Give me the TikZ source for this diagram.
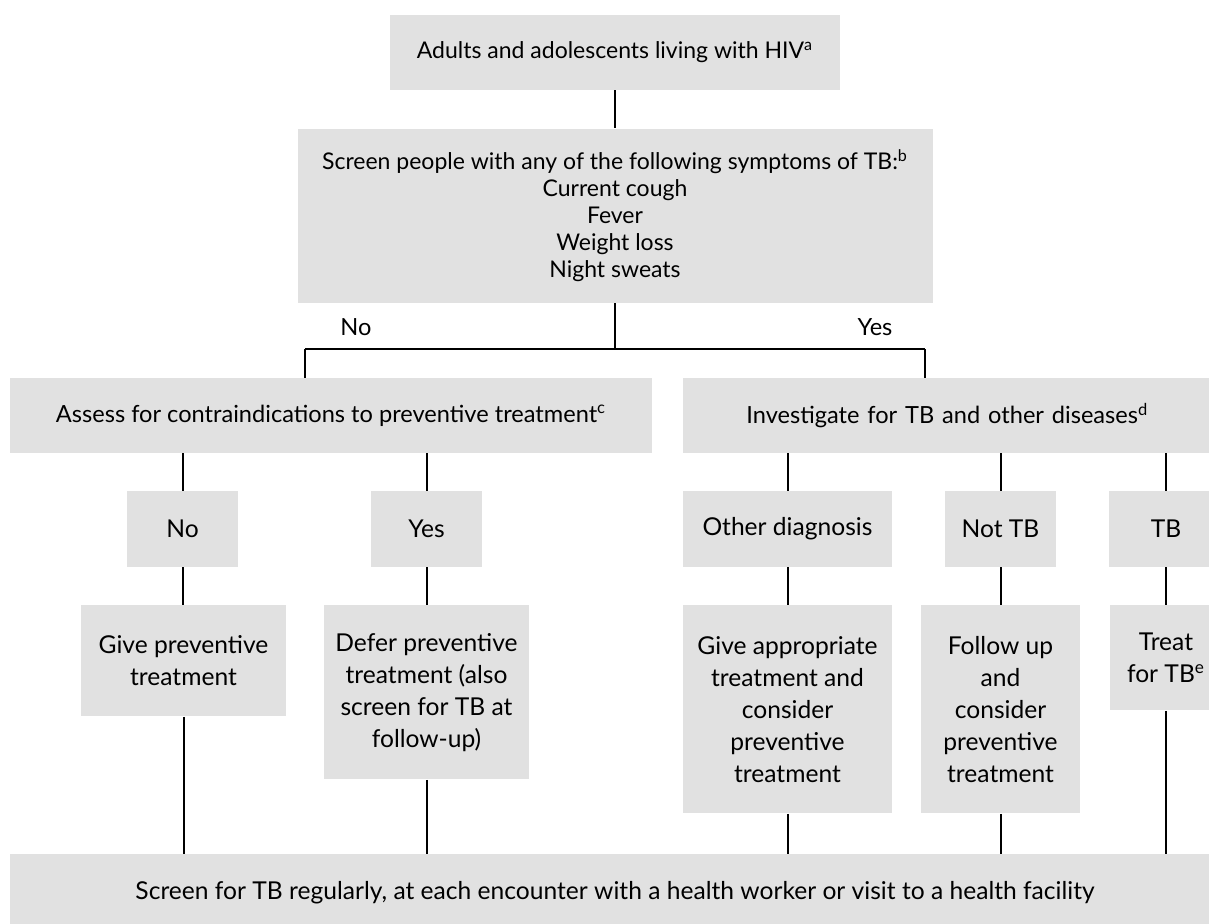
\documentclass[tikz,border=0pt]{standalone}
\usepackage{fontspec}
\setmainfont{Lato}
\usetikzlibrary{positioning}
\definecolor{boxgray}{HTML}{E1E1E1}

\begin{document}
\begin{tikzpicture}[
  x=0.5pt, y=-0.5pt,
  box/.style={fill=boxgray, rectangle, inner sep=0pt, align=center, font=\fontsize{11.5}{13.5}\selectfont},
  midbox/.style={box, font=\fontsize{11.8}{13.5}\selectfont},
  smallbox/.style={box, font=\fontsize{12.3}{16}\selectfont},
  tallbox/.style={smallbox, anchor=north},
  tag/.style={font=\fontsize{11.8}{13.5}\selectfont, inner sep=0pt},
  link/.style={line width=1pt}
]
  \useasboundingbox (0,0) rectangle (1209,923);
  \clip (0,0) rectangle (1209,923);

  \node (top) [box, minimum width=225pt, minimum height=37.5pt] at (615,52.5) {Adults and adolescents living with HIV\textsuperscript{a}};
  \node (screen) [box, below=19pt of top, minimum width=317.5pt, minimum height=87pt] {Screen people with any of the following symptoms of TB:\textsuperscript{b}\\Current cough\\Fever\\Weight loss\\Night sweats};
  \node (assess) [midbox, minimum width=321pt, minimum height=37.5pt] at (331,415.5) {Assess for contraindications to preventive treatment\textsuperscript{c}};
  \node (invest) [midbox, anchor=west, minimum height=37.5pt, text width=206.5pt, inner xsep=31.5pt, align=left] at (683,415.5) {Investigate for TB and other diseases\textsuperscript{d}};

  \node (no) [smallbox, minimum width=55.5pt, minimum height=38pt] at (182.5,529) {No};
  \node (yes) [smallbox, minimum width=55.5pt, minimum height=38pt] at (426.5,529) {Yes};
  \node (other) [smallbox, minimum width=104.5pt, minimum height=38pt] at (787.5,529) {Other diagnosis};
  \node (nottb) [smallbox, minimum width=55.5pt, minimum height=38pt] at (1000.5,529) {Not TB};
  \node (tb) [smallbox, minimum width=57pt, minimum height=38pt] at (1166,529) {TB};

  \node (give) [tallbox, minimum width=102.5pt, minimum height=55.5pt] at (183.5,605) {Give preventive\\treatment};
  \node (defer) [tallbox, minimum width=102.5pt, minimum height=87pt] at (426.5,605) {Defer preventive\\treatment (also\\screen for TB at\\follow-up)};
  \node (appr) [tallbox, minimum width=104.5pt, minimum height=104pt] at (787.5,605) {Give appropriate\\treatment and\\consider\\preventive\\treatment};
  \node (follow) [tallbox, minimum width=79.5pt, minimum height=104pt] at (1000.5,605) {Follow up\\and\\consider\\preventive\\treatment};
  \node (treat) [tallbox, minimum width=56pt, minimum height=52.5pt] at (1166,605) {Treat\\for TB\textsuperscript{e}};

  \node (final) [smallbox, minimum width=605pt, minimum height=39pt] at (615,893) {Screen for TB regularly, at each encounter with a health worker or visit to a health facility};

  \node (nolabel) [tag] at (356,327) {No};
  \node (yeslabel) [tag] at (875,327) {Yes};

  \coordinate (split) at (615,349);
  \coordinate (noturn) at (305,349);
  \coordinate (yesturn) at (925,349);

  \draw [link] (top) -- (screen);
  \draw [link] (screen.south) -- (split);
  \draw [link] (noturn) -- (yesturn);
  \draw [link] (noturn) -- (noturn |- assess.north);
  \draw [link] (yesturn) -- (yesturn |- invest.north);

  \draw [link] (no.north |- assess.south) -- (no.north);
  \draw [link] (yes.north |- assess.south) -- (yes.north);
  \draw [link] (other.north |- invest.south) -- (other.north);
  \draw [link] (nottb.north |- invest.south) -- (nottb.north);
  \draw [link] (tb.north |- invest.south) -- (tb.north);

  \draw [link] (no.south) -- (no.south |- give.north);
  \draw [link] (yes.south) -- (yes.south |- defer.north);
  \draw [link] (other.south) -- (other.south |- appr.north);
  \draw [link] (nottb.south) -- (nottb.south |- follow.north);
  \draw [link] (tb.south) -- (tb.south |- treat.north);

  \draw [link] (give.south) -- (give.south |- final.north);
  \draw [link] (defer.south) -- (defer.south |- final.north);
  \draw [link] (appr.south) -- (appr.south |- final.north);
  \draw [link] (follow.south) -- (follow.south |- final.north);
  \draw [link] (treat.south) -- (treat.south |- final.north);
\end{tikzpicture}
\end{document}
